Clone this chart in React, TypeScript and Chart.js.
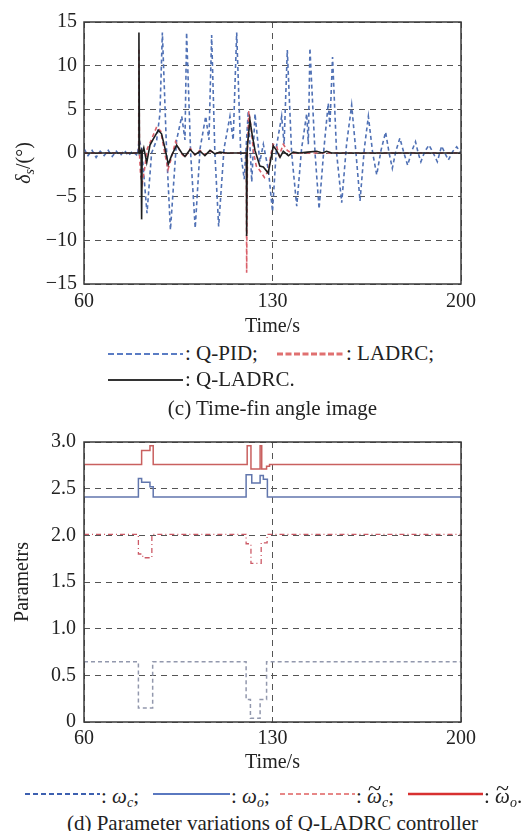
import React, { useEffect, useRef } from 'react';
import { Chart, registerables } from 'chart.js';
Chart.register(...registerables);

const FONT = '"Liberation Serif", "Times New Roman", serif';
const TXT = '#222';

// ---------- (c) Time-fin angle: x ticks / y ticks ----------
const timeTicks = [60, 130, 200];
const finTicks = [-15, -10, -5, 0, 5, 10, 15];

// Q-PID
const pidT = [60, 61.5, 63, 64.5, 66, 67.5, 69, 70.5, 72, 73.5,
  75, 76.5, 78, 79.8, 80.5, 81.4, 83.4, 85.1, 87.0, 88.2,
  89.1, 90.7, 92.1, 94.4, 96.3, 97.5, 98.1, 99.6, 101.3, 103.1,
  105.2, 106.4, 107.4, 108.6, 110.0, 112.0, 114.2, 115.4, 116.7, 118.2,
  119.5, 121.0, 122.3, 123.5, 125.3, 126.6, 128.5, 130.0, 131.5, 133.4,
  134.3, 135.5, 137.1, 139.0, 140.8, 142.7, 143.3, 143.9, 145.8, 147.3,
  149.1, 150.7, 151.3, 152.3, 153.8, 155.7, 157.5, 159.4, 161.0, 162.5,
  164.1, 165.6, 167.2, 168.7, 170.3, 172.0, 173.3, 174.5, 175.8, 177.3,
  178.8, 180.2, 181.7, 183.1, 184.1, 185.1, 186.6, 188.1, 189.7, 191.2,
  192.8, 194, 195.3, 197, 198.4, 200];
const pidV = [0.5, -0.3, 0.3, -0.5, 0.2, -0.3, 0.3, -0.4, 0.2, -0.3,
  0.3, -0.3, 0.2, -0.3, 1.5, 0.5, -6.9, 0, 1.5, 4.5,
  13.8, 0, -8.8, 1.5, 4.2, 1.5, 13.8, 0, -8.6, 0.5,
  4.2, 1.5, 13.5, 0, -8.4, 0.5, 4.2, 1.5, 13.8, 0,
  -3, 4.8, -3.3, 4.5, -1, 1, -2, -6.7, 0.8, 4.2,
  1, 11.8, 0, -6.1, 0.5, 4.5, 1, 12, 0, -6.4,
  0.5, 5.7, 3, 11, 0, -5.7, 1, 5.5, 0, -5.5,
  0.5, 4.2, 0, -2.5, 0.3, 2.4, 0, -1.75, 0.2, 1.7,
  0, -1.4, 0.2, 1.3, 0, -1, 0.2, 0.9, 0, -1,
  0.8, 0, -0.8, 0.2, 0.7, 0];

// LADRC
const ladrcT = [60, 80.3, 80.4, 80.6, 81.0, 81.6, 82.4, 83.5, 85.0, 87.0,
  88.5, 90.0, 91.2, 92.5, 94.0, 96.0, 97.5, 99.5, 101.2, 103.0,
  105.0, 107.0, 109, 120.3, 120.4, 120.7, 121.2, 122.0, 123.0, 124.0,
  125.3, 127.0, 128.5, 129.5, 130.3, 131.5, 132.5, 134.0, 135.5, 137.0, 200];
const ladrcV = [0, 0, 12, 0, -2.5, -3.5, -2.0, 0.5, 1.5, 3.0,
  2.5, 0, -1.9, -0.5, 1.3, 0, -0.5, 0.5, -0.2, 0.3,
  -0.2, 0.2, 0, 0, -13.7, 0, 4.8, 3.0, 0, -1.5,
  -2.0, -2.8, -2.0, 0, 1.0, 0.8, -0.3, 1.0, 0.3, 0, 0];

// Q-LADRC
const qladrcT = [60, 80.3, 80.4, 80.6, 81.2, 81.4, 81.6, 82.2, 83.3, 84.5,
  85.7, 87.6, 88.8, 90.1, 91.3, 92.5, 94.4, 96.3, 97.5, 99.4,
  101.2, 103.1, 104.9, 106.8, 108.6, 110.5, 112.5, 120.3, 120.4, 120.6,
  121.6, 122.5, 123.5, 125.3, 126.6, 128.4, 130.3, 131.5, 132.8, 134.0,
  135.9, 137.7, 140, 143, 146.4, 148.5, 150.1, 152, 200];
const qladrcV = [0, 0, 13.8, 0, 0.3, -7.6, 0, 0.6, -1.1, 0.9,
  1.6, 2.6, 2.2, 0.5, -1.3, -0.3, 0.9, 0, -0.4, 0.4,
  -0.2, 0.2, -0.3, 0.3, -0.1, 0.1, 0, 0, -9.5, 0.5,
  3.8, 2.0, 0.3, -1.5, -1.6, -2.3, 0.8, 0.3, -0.5, 0.2,
  -0.3, 0.1, 0, 0.1, 0.2, 0, 0.2, 0, 0];

// ---------- (d) Parameter variations ----------
const paramTicks = [0, 0.5, 1.0, 1.5, 2.0, 2.5, 3.0];

// omega_c
const wcT = [60, 80.2, 80.2, 85.5, 85.5, 120.2, 120.2, 121.8, 121.8, 125.4, 125.4, 127.8, 127.8, 200];
const wcV = [0.645, 0.645, 0.15, 0.15, 0.645, 0.645, 0.24, 0.24, 0.04, 0.04, 0.24, 0.24, 0.645, 0.645];
// omega_o
const woT = [60, 80.2, 80.2, 81.4, 81.4, 84.5, 84.5, 85.7, 85.7, 120.2, 120.2, 122.3, 122.3, 125.4, 125.4, 126.6, 126.6, 128.1, 128.1, 200];
const woV = [2.41, 2.41, 2.61, 2.61, 2.57, 2.57, 2.52, 2.52, 2.41, 2.41, 2.65, 2.65, 2.56, 2.56, 2.64, 2.64, 2.6, 2.6, 2.41, 2.41];
// omega_c tilde
const wcTildeT = [60, 80.2, 80.2, 81.8, 81.8, 85.2, 85.2, 120.2, 120.2, 122.0, 122.0, 125.8, 125.8, 128.0, 128.0, 200];
const wcTildeV = [2.01, 2.01, 1.80, 1.80, 1.76, 1.76, 2.01, 2.01, 1.91, 1.91, 1.70, 1.70, 1.92, 1.92, 2.01, 2.01];
// omega_o tilde
const woTildeT = [60, 81.4, 81.4, 84.5, 84.5, 85.7, 85.7, 120.6, 120.6, 122.0, 122.0, 125.4, 125.4, 126.0, 126.0, 127.8, 127.8, 128.9, 128.9, 200];
const woTildeV = [2.76, 2.76, 2.91, 2.91, 2.96, 2.96, 2.76, 2.76, 2.96, 2.96, 2.71, 2.71, 2.96, 2.96, 2.71, 2.71, 2.74, 2.74, 2.76, 2.76];

const pts = (t: number[], v: number[]) => t.map((x, i) => ({ x, y: v[i] }));

const boxPlugin = {
  id: 'box',
  afterDraw(chart: any) {
    const { ctx, chartArea: { left, top, right, bottom } } = chart;
    ctx.save();
    ctx.strokeStyle = '#3a3a3a';
    ctx.lineWidth = 1.5;
    ctx.strokeRect(left, top, right - left, bottom - top);
    ctx.restore();
  },
};

const finTitlePlugin = {
  id: 'finTitle',
  afterDraw(chart: any) {
    const ctx = chart.ctx;
    ctx.save();
    ctx.translate(25, 163);
    ctx.rotate(-Math.PI / 2);
    ctx.fillStyle = TXT;
    ctx.textBaseline = 'middle';
    ctx.textAlign = 'left';
    const f1 = `italic 20px ${FONT}`;
    const f2 = `italic 14px ${FONT}`;
    const f3 = `20px ${FONT}`;
    ctx.font = f1; const w1 = ctx.measureText('δ').width;
    ctx.font = f2; const w2 = ctx.measureText('s').width;
    ctx.font = f3; const w3 = ctx.measureText('/(°)').width;
    let x = -(w1 + w2 + w3) / 2;
    ctx.font = f1; ctx.fillText('δ', x, 0); x += w1;
    ctx.font = f2; ctx.fillText('s', x, 5); x += w2;
    ctx.font = f3; ctx.fillText('/(°)', x, 0);
    ctx.restore();
  },
};

const tickFont = { family: FONT, size: 20 };
const grid = { color: '#555', lineWidth: 1, drawTicks: false };
const border = { display: false, dash: [6, 5] };

function App() {
  const c1 = useRef<HTMLCanvasElement>(null);
  const c2 = useRef<HTMLCanvasElement>(null);

  useEffect(() => {
    const ch1 = new Chart(c1.current as HTMLCanvasElement, {
      type: 'line',
      data: {
        datasets: [
          { label: 'Q-LADRC', data: pts(qladrcT, qladrcV), borderColor: '#1e1e1e', borderWidth: 1.6, pointRadius: 0 },
          { label: 'LADRC', data: pts(ladrcT, ladrcV), borderColor: '#d9606a', borderWidth: 1.6, borderDash: [4, 3], pointRadius: 0 },
          { label: 'Q-PID', data: pts(pidT, pidV), borderColor: '#5071b5', borderWidth: 1.6, borderDash: [4, 3], pointRadius: 0 },
        ],
      } as any,
      options: {
        responsive: false,
        animation: false,
        layout: { padding: { left: 0, right: 63, top: 22, bottom: 0 } },
        plugins: { legend: { display: false }, tooltip: { enabled: false } },
        scales: {
          x: {
            type: 'linear', min: timeTicks[0], max: timeTicks[timeTicks.length - 1],
            afterFit: (s: any) => { s.height = 56; },
            afterBuildTicks: (s: any) => { s.ticks = timeTicks.map((v) => ({ value: v })); },
            ticks: { font: tickFont, color: TXT, padding: 6, maxRotation: 0, autoSkip: false },
            grid, border,
            title: { display: true, text: 'Time/s', font: tickFont, color: TXT, padding: { top: 0, bottom: 1 } },
          },
          y: {
            type: 'linear', min: -15, max: 15,
            afterFit: (s: any) => { s.width = 84; },
            afterBuildTicks: (s: any) => { s.ticks = finTicks.map((v) => ({ value: v })); },
            ticks: {
              font: tickFont, color: TXT, padding: 7,
              callback: (v: any) => (v < 0 ? '\u2212' + Math.abs(v) : String(v)),
            },
            grid, border,
          },
        },
      } as any,
      plugins: [boxPlugin, finTitlePlugin],
    });

    const ch2 = new Chart(c2.current as HTMLCanvasElement, {
      type: 'line',
      data: {
        datasets: [
          { label: 'wo~', data: pts(woTildeT, woTildeV), borderColor: '#c9605f', borderWidth: 1.5, pointRadius: 0 },
          { label: 'wo', data: pts(woT, woV), borderColor: '#6176ad', borderWidth: 1.5, pointRadius: 0 },
          { label: 'wc~', data: pts(wcTildeT, wcTildeV), borderColor: '#cc5a66', borderWidth: 1.3, borderDash: [5, 3, 1, 3], pointRadius: 0 },
          { label: 'wc', data: pts(wcT, wcV), borderColor: '#9298ad', borderWidth: 1.5, borderDash: [4, 3], pointRadius: 0 },
        ],
      } as any,
      options: {
        responsive: false,
        animation: false,
        layout: { padding: { left: 0, right: 63, top: 52, bottom: 0 } },
        plugins: { legend: { display: false }, tooltip: { enabled: false } },
        scales: {
          x: {
            type: 'linear', min: timeTicks[0], max: timeTicks[timeTicks.length - 1],
            afterFit: (s: any) => { s.height = 58; },
            afterBuildTicks: (s: any) => { s.ticks = timeTicks.map((v) => ({ value: v })); },
            ticks: { font: tickFont, color: TXT, padding: 5, maxRotation: 0, autoSkip: false },
            grid, border,
            title: { display: true, text: 'Time/s', font: tickFont, color: TXT, padding: { top: 0, bottom: 5 } },
          },
          y: {
            type: 'linear', min: 0, max: 3,
            afterFit: (s: any) => { s.width = 84; },
            afterBuildTicks: (s: any) => { s.ticks = paramTicks.map((v) => ({ value: v })); },
            ticks: {
              font: tickFont, color: TXT, padding: 8,
              callback: (v: any) => (v === 0 ? '0' : Number(v).toFixed(1)),
            },
            grid, border,
            title: { display: true, text: 'Parametrs', font: tickFont, color: TXT, padding: { top: 11, bottom: 0 } },
          },
        },
      } as any,
      plugins: [boxPlugin],
    });

    return () => { ch1.destroy(); ch2.destroy(); };
  }, []);

  const txt = (x: number, y: number, content: React.ReactNode, extra: any = {}) => (
    <div style={{ position: 'absolute', left: x, top: y - 12, lineHeight: '24px', fontSize: 21, fontFamily: FONT, color: TXT, whiteSpace: 'nowrap', ...extra }}>{content}</div>
  );
  const sample = (x1: number, x2: number, y: number, color: string, w: number, dash?: string) => (
    <svg style={{ position: 'absolute', left: x1, top: y - 4 }} width={x2 - x1} height={8}>
      <line x1={0} y1={4} x2={x2 - x1} y2={4} stroke={color} strokeWidth={w} strokeDasharray={dash} />
    </svg>
  );
  const sub = (s: string) => (
    <span style={{ fontSize: 14, position: 'relative', top: 4, fontStyle: 'italic' }}>{s}</span>
  );
  const omega = (tilde: boolean) => (
    <span style={{ position: 'relative', display: 'inline-block' }}>
      <i>ω</i>
      {tilde ? (
        <span style={{ position: 'absolute', left: 0, width: '100%', textAlign: 'center', top: -8, fontSize: 20, transform: 'scaleX(1.2)' }}>~</span>
      ) : null}
    </span>
  );

  return (
    <div style={{ position: 'absolute', left: 0, top: 0, width: 524, height: 831, background: '#fff', overflow: 'hidden' }}>
      <canvas ref={c1} width={524} height={340} style={{ position: 'absolute', left: 0, top: 0 }} />
      <canvas ref={c2} width={524} height={390} style={{ position: 'absolute', left: 0, top: 390 }} />

      {sample(108, 183, 354, '#5a7cc4', 2.2, '6 3')}
      {txt(185, 353, ': Q-PID;')}
      {sample(277, 345, 354, '#e07070', 3, '6 2.5')}
      {txt(346, 353, ': LADRC;')}
      {sample(108, 183, 380, '#333', 2)}
      {txt(185, 379, ': Q-LADRC.')}
      {txt(0, 408, '(c) Time-fin angle image', { width: 545, textAlign: 'center' })}

      {sample(25, 100, 794, '#3d60b0', 2, '5 3')}
      {txt(101, 796, <span>: {omega(false)}{sub('c')};</span>)}
      {sample(153, 230, 794, '#5a78c0', 2)}
      {txt(231, 796, <span>: {omega(false)}{sub('o')};</span>)}
      {sample(280, 355, 794, '#e06060', 1.5, '5 3')}
      {txt(356, 796, <span>: {omega(true)}{sub('c')};</span>)}
      {sample(408, 483, 794, '#d83030', 2.5)}
      {txt(484, 796, <span>: {omega(true)}{sub('o')}.</span>)}
      {txt(0, 823, '(d) Parameter variations of Q-LADRC controller', { width: 545, textAlign: 'center' })}
    </div>
  );
}

export default App;
